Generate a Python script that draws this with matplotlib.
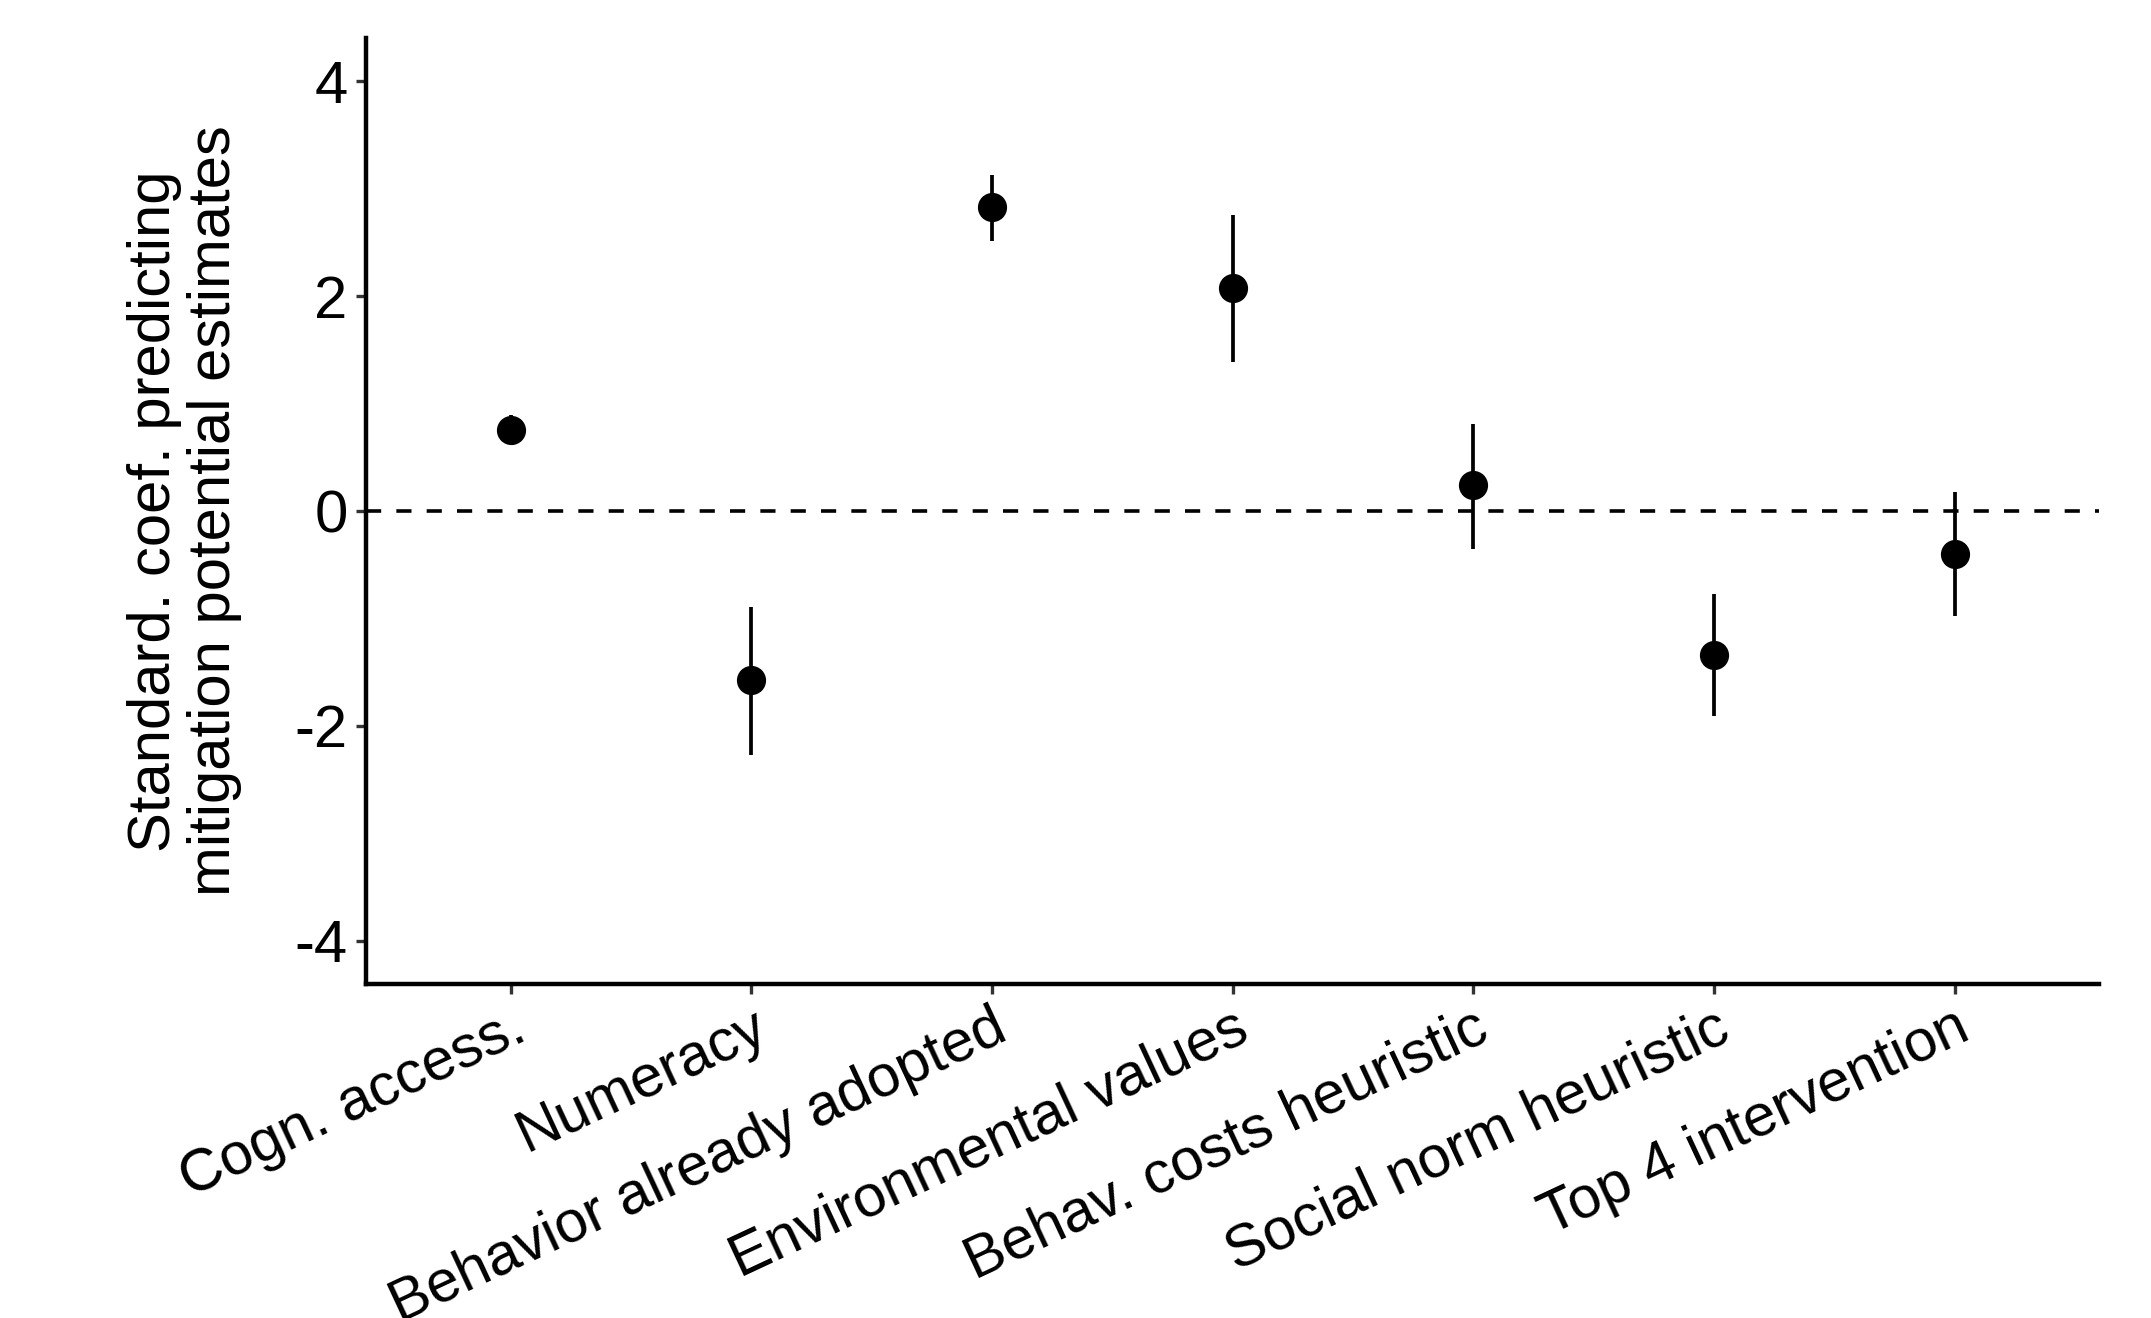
import matplotlib
matplotlib.use("Agg")
import matplotlib.pyplot as plt

plt.rcParams['font.family'] = ['Liberation Sans', 'DejaVu Sans']

predictors = ["Cogn. access.", "Numeracy", "Behavior already adopted",
              "Environmental values", "Behav. costs heuristic",
              "Social norm heuristic", "Top 4 intervention"]
estimate = [0.75, -1.57, 2.83, 2.08, 0.24, -1.34, -0.40]
ci_low = [0.61, -2.27, 2.51, 1.39, -0.35, -1.91, -0.98]
ci_high = [0.89, -0.89, 3.13, 2.76, 0.81, -0.77, 0.18]
y_ticks = [-4, -2, 0, 2, 4]

fig = plt.figure(figsize=(21.51, 13.18), dpi=100)
ax = fig.add_axes([0.1703, 0.2537, 0.9758 - 0.1703, 0.9709 - 0.2537])

x = list(range(1, len(predictors) + 1))
ax.axhline(0, color='black', lw=2.6, dashes=(4.2, 4.2), zorder=1)
ax.vlines(x, ci_low, ci_high, color='black', lw=2.7, zorder=2)
ax.plot(x, estimate, 'o', color='black', ms=20, zorder=3)

ax.set_xlim(0.4, len(predictors) + 0.6)
ax.set_ylim(-4.4, 4.4)
ax.set_yticks(y_ticks)
ax.set_yticklabels([str(v) for v in y_ticks])
ax.set_xticks(x)
ax.set_xticklabels(predictors, rotation=25, ha='right', va='top',
                   rotation_mode='anchor', fontsize=42.5)

for s in ['top', 'right']:
    ax.spines[s].set_visible(False)
for s in ['left', 'bottom']:
    ax.spines[s].set_linewidth(3.2)
    ax.spines[s].set_color('black')

ax.tick_params(axis='both', length=7.5, width=2.4, color='#333333',
               labelcolor='black', pad=6)
ax.tick_params(axis='x', pad=4)
ax.tick_params(axis='y', labelsize=43)

ax.set_ylabel("Standard. coef. predicting\nmitigation potential estimates",
              fontsize=43, labelpad=38, linespacing=1.1)

fig.savefig("out.png", dpi=100)
